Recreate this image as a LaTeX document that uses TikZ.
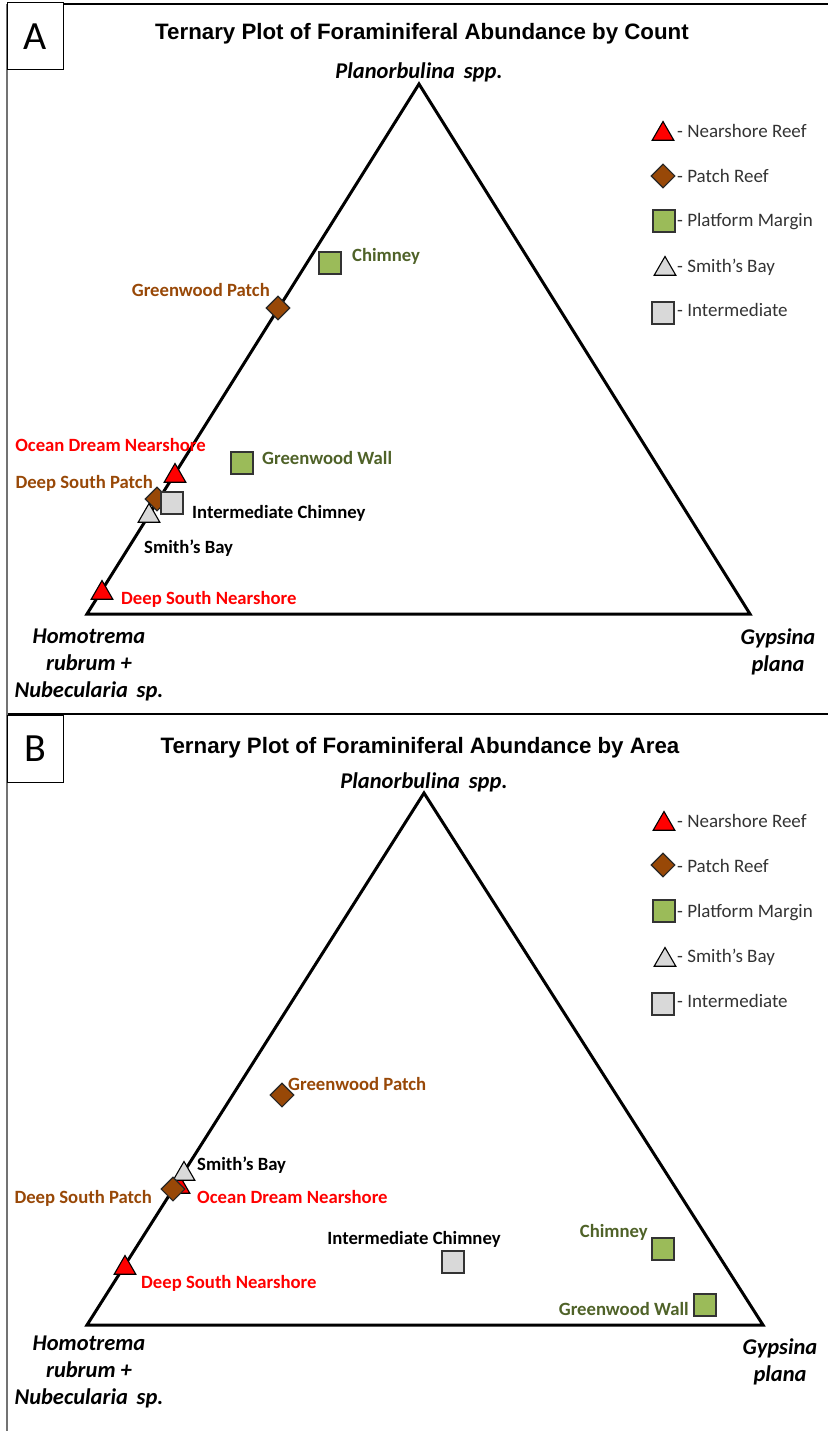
\documentclass[tikz,border=0pt]{standalone}
\usepackage{fontspec}
\setmainfont{Carlito}
\newfontfamily\titlefont{Liberation Sans}
\usetikzlibrary{shapes.geometric, positioning}

\definecolor{reefred}{RGB}{255,0,0}
\definecolor{patchbrown}{RGB}{152,72,7}
\definecolor{margingreen}{RGB}{155,187,89}
\definecolor{marginlabel}{RGB}{79,98,40}
\definecolor{baygray}{RGB}{217,217,217}
\definecolor{legendtext}{RGB}{51,51,51}

\begin{document}
\begin{tikzpicture}[x=1pt, y=-1pt]
            \tikzstyle{reef}=[regular polygon, regular polygon sides=3, minimum size=25, inner sep=0, draw=black, line width=1.1, fill=reefred]
            \tikzstyle{bay}=[reef, fill=baygray]
            \tikzstyle{patch}=[diamond, minimum width=24, minimum height=24, inner sep=0, draw=black!85, line width=1.1, fill=patchbrown]
            \tikzstyle{margin}=[rectangle, minimum size=22, inner sep=0, draw=black!80, line width=1.1, fill=margingreen]
            \tikzstyle{inter}=[margin, fill=baygray]
            \tikzstyle{lab}=[inner sep=0, yshift=-3pt, font=\fontsize{18.7}{22}\selectfont\bfseries]
            \tikzstyle{key}=[inner sep=0, anchor=mid west, yshift=-3pt, text=legendtext, font=\fontsize{19}{22}\selectfont]
            \tikzstyle{apex}=[inner sep=0, align=center, yshift=-2pt, font=\fontsize{22.5}{27}\selectfont\bfseries\itshape]
            \tikzstyle{heading}=[inner sep=0, yshift=-3pt, font=\titlefont\fontsize{22.3}{26}\selectfont\bfseries]
            \tikzstyle{panel}=[draw=black, line width=1, minimum width=56, minimum height=67, inner sep=0, font=\fontsize{40}{40}\selectfont]

            \useasboundingbox (0,0) rectangle (828,1431);

            % frame
            \draw[line width=1.5] (7,4) -- (828,4);
            \draw[line width=1.5] (7,714) -- (828,714);
            \draw[line width=1.5, black!55] (7,4) -- (7,1431);
            \node[panel, fill=white] (pA) at (35,36.5) {A};
            \node[panel, fill=white] (pB) at (35,749) {B};

            % ---------- panel A : by count ----------
            \node[heading] (tA) at (422,31) {Ternary Plot of Foraminiferal Abundance by Count};
            \coordinate (topA) at (419,84);
            \coordinate (leftA) at (87,614);
            \coordinate (rightA) at (750,614);
            \draw[line width=3] (topA) -- (rightA) -- (leftA) -- cycle;
            \node[apex] (aPlA) at (419,70) {Planorbulina\ \,spp.};
            \node[apex] (aHoA) at (89,663) {Homotrema\\rubrum +\\Nubecularia\ \,sp.};
            \node[apex] (aGyA) at (778,650) {Gypsina\\plana};

            \node[margin] (chimA) at (330,263) {};
            \node[patch] (gpatchA) at (278,308) {};
            \node[margin] (gwallA) at (242,463) {};
            \node[reef] (odreamA) at (175,476) {};
            \node[patch] (dspatchA) at (157,499) {};
            \node[bay] (smithA) at (149,516) {};
            \node[inter] (interA) at (172,503) {};
            \node[reef] (dsnearA) at (102,593) {};

            \node[lab, anchor=mid west, text=marginlabel] (lchimA) at (352,256) {Chimney};
            \node[lab, anchor=mid east, text=patchbrown] (lgpatchA) at (270,291) {Greenwood Patch};
            \node[lab, anchor=mid west, text=marginlabel] (lgwallA) at (262,459) {Greenwood Wall};
            \node[lab, anchor=mid east, text=reefred] (lodreamA) at (206,446) {Ocean Dream Nearshore};
            \node[lab, anchor=mid east, text=patchbrown] (ldspatchA) at (153,483) {Deep South Patch};
            \node[lab, anchor=mid west] (linterA) at (192,513) {Intermediate Chimney};
            \node[lab, anchor=mid west] (lsmithA) at (144,548) {Smith’s Bay};
            \node[lab, anchor=mid west, text=reefred] (ldsnearA) at (121,599) {Deep South Nearshore};

            % legend A
            \node[reef] (kreefA) at (663,134) {};
            \node[patch] (kpatchA) at (663,176) {};
            \node[margin] (kmarginA) at (664,221) {};
            \node[bay] (kbayA) at (665,269) {};
            \node[inter] (kinterA) at (663,313) {};
            \node[key] at (677,132) {- Nearshore Reef};
            \node[key] at (677,177) {- Patch Reef};
            \node[key] at (677,221) {- Platform Margin};
            \node[key] at (677,267) {- Smith’s Bay};
            \node[key] at (677,311) {- Intermediate};

            % ---------- panel B : by area ----------
            \node[heading] (tB) at (420,745) {Ternary Plot of Foraminiferal Abundance by Area};
            \coordinate (topB) at (424,793);
            \coordinate (leftB) at (87,1325);
            \coordinate (rightB) at (763,1325);
            \draw[line width=3] (topB) -- (rightB) -- (leftB) -- cycle;
            \node[apex] (aPlB) at (424,780) {Planorbulina\ \,spp.};
            \node[apex] (aHoB) at (89,1370) {Homotrema\\rubrum +\\Nubecularia\ \,sp.};
            \node[apex] (aGyB) at (780,1360) {Gypsina\\plana};

            \node[patch] (gpatchB) at (282,1095) {};
            \node[reef] (odreamB) at (179,1187) {};
            \node[bay] (smithB) at (184,1174) {};
            \node[patch] (dspatchB) at (173,1189) {};
            \node[reef] (dsnearB) at (125,1268) {};
            \node[inter] (interB) at (453,1262) {};
            \node[margin] (chimB) at (663,1249) {};
            \node[margin] (gwallB) at (705,1305) {};

            \node[lab, anchor=mid west, text=patchbrown] (lgpatchB) at (288,1085) {Greenwood Patch};
            \node[lab, anchor=mid west] (lsmithB) at (197,1165) {Smith’s Bay};
            \node[lab, anchor=mid west, text=reefred] (lodreamB) at (197,1198) {Ocean Dream Nearshore};
            \node[lab, anchor=mid east, text=patchbrown] (ldspatchB) at (152,1198) {Deep South Patch};
            \node[lab, anchor=mid west, text=reefred] (ldsnearB) at (141,1283) {Deep South Nearshore};
            \node[lab, anchor=mid] (linterB) at (414,1239) {Intermediate Chimney};
            \node[lab, anchor=mid east, text=marginlabel] (lchimB) at (648,1232) {Chimney};
            \node[lab, anchor=mid east, text=marginlabel] (lgwallB) at (689,1310) {Greenwood Wall};

            % legend B
            \node[reef] (kreefB) at (664,824) {};
            \node[patch] (kpatchB) at (663,865) {};
            \node[margin] (kmarginB) at (664,911) {};
            \node[bay] (kbayB) at (665,960) {};
            \node[inter] (kinterB) at (663,1004) {};
            \node[key] at (677,822) {- Nearshore Reef};
            \node[key] at (677,867) {- Patch Reef};
            \node[key] at (677,912) {- Platform Margin};
            \node[key] at (677,957) {- Smith’s Bay};
            \node[key] at (677,1002) {- Intermediate};

          \end{tikzpicture}
\end{document}
